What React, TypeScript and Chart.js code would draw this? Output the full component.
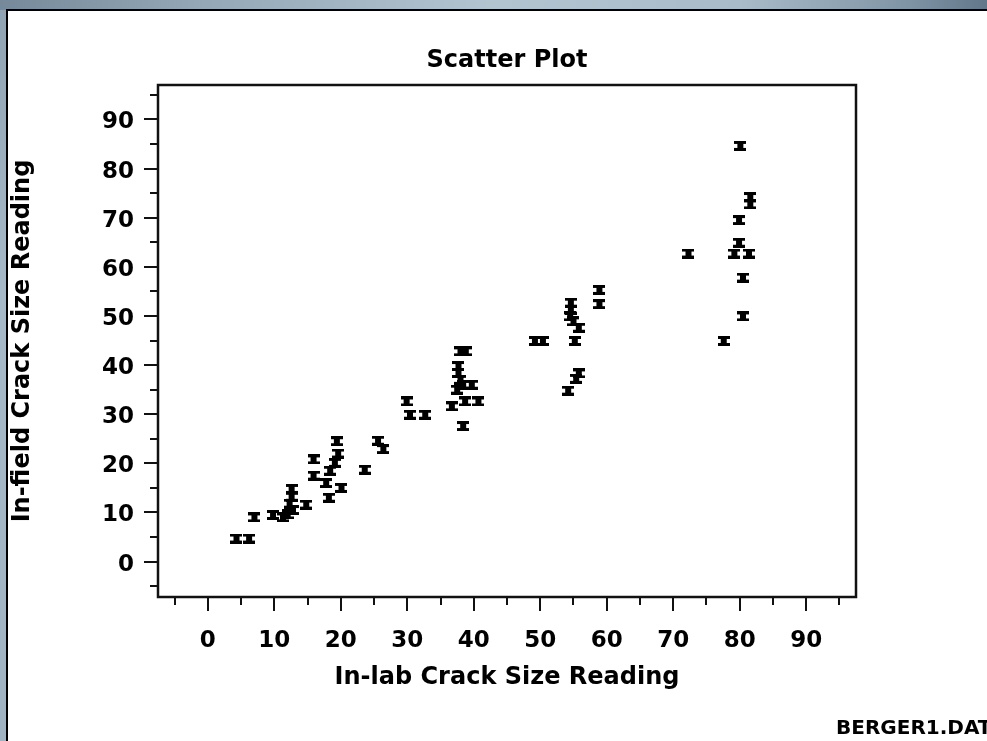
import React, { useEffect, useRef } from 'react';
import { Chart, registerables } from 'chart.js';

Chart.register(...registerables);

// In-lab (x) and in-field (y) crack size readings
const inLab = [4.3, 6.2, 7.0, 9.8, 11.3, 12.0, 12.8, 12.3, 12.6, 12.6, 14.8, 15.9, 15.9, 17.8, 18.2, 18.4, 19.1, 19.6, 19.4, 20.1, 23.6, 25.6, 26.4, 29.9, 30.4, 32.7, 36.7, 38.0, 38.8, 37.7, 37.7, 38.0, 38.4, 37.5, 39.7, 38.7, 40.7, 38.4, 49.2, 50.4, 55.2, 54.6, 54.6, 54.5, 55.0, 55.8, 55.8, 55.4, 54.2, 58.9, 58.9, 72.3, 77.6, 80.1, 81.6, 81.6, 79.9, 79.9, 79.2, 81.4, 80.5, 80.5];
const inField = [4.7, 4.7, 9.0, 9.5, 9.0, 9.6, 10.5, 11.8, 13.2, 14.8, 11.6, 20.8, 17.5, 16.0, 13.0, 18.5, 20.1, 22.0, 24.5, 15.0, 18.7, 24.6, 22.9, 32.6, 29.9, 29.9, 31.6, 42.8, 42.8, 39.8, 38.4, 37.0, 36.0, 35.0, 36.0, 32.6, 32.6, 27.6, 44.9, 44.9, 44.9, 52.7, 51.3, 49.9, 48.9, 47.6, 38.3, 37.2, 34.8, 55.3, 52.4, 62.7, 44.9, 84.6, 74.2, 72.7, 69.5, 64.9, 62.7, 62.7, 57.8, 49.9];

const tickValues = [-5, 0, 5, 10, 15, 20, 25, 30, 35, 40, 45, 50, 55, 60, 65, 70, 75, 80, 85, 90, 95];
const labeledTicks = [0, 10, 20, 30, 40, 50, 60, 70, 80, 90];

const chartTitle = 'Scatter Plot';
const xTitle = 'In-lab Crack Size Reading';
const yTitle = 'In-field Crack Size Reading';
const footnote = 'BERGER1.DAT';

const FONT = '"DejaVu Sans", Verdana, sans-serif';
const INK = '#111';

function makeMarker(): HTMLCanvasElement {
  const c = document.createElement('canvas');
  c.width = 12;
  c.height = 10;
  const g = c.getContext('2d')!;
  g.fillStyle = '#000';
  g.fillRect(0, 0, 12, 3);
  g.fillRect(3, 2, 6, 6);
  g.fillRect(0, 7, 12, 3);
  return c;
}

const isMajor = (v: number) => labeledTicks.includes(v);

const framePlugin = {
  id: 'frameAndMinorTicks',
  afterDraw(chart: any) {
    const { ctx, chartArea: a } = chart;
    const xs = chart.scales.x;
    const ys = chart.scales.y;
    ctx.save();
    ctx.strokeStyle = INK;
    ctx.lineWidth = 2.5;
    ctx.strokeRect(a.left, a.top, a.right - a.left, a.bottom - a.top);
    ctx.lineWidth = 2;
    ctx.beginPath();
    tickValues.forEach((v) => {
      if (isMajor(v)) return;
      const px = Math.round(xs.getPixelForValue(v));
      ctx.moveTo(px, a.bottom);
      ctx.lineTo(px, a.bottom + 8);
      const py = Math.round(ys.getPixelForValue(v));
      ctx.moveTo(a.left, py);
      ctx.lineTo(a.left - 8, py);
    });
    ctx.stroke();
    ctx.restore();
  },
};

export default function App() {
  const ref = useRef<HTMLCanvasElement | null>(null);

  useEffect(() => {
    if (!ref.current) return;
    const marker = makeMarker();
    const points = inLab.map((x, i) => ({ x, y: inField[i] }));
    const tickFont = { family: FONT, size: 23, weight: 'bold' as const };
    const titleFont = { family: FONT, size: 24, weight: 'bold' as const };
    const chart = new Chart(ref.current, {
      type: 'scatter',
      data: {
        datasets: [
          {
            data: points,
            pointStyle: marker,
            pointRadius: 6,
            backgroundColor: '#000',
            borderColor: '#000',
          },
        ],
      },
      plugins: [framePlugin],
      options: {
        responsive: false,
        animation: false,
        events: [],
        layout: { padding: { left: 0, right: 131, top: 0, bottom: 45 } },
        plugins: {
          legend: { display: false },
          tooltip: { enabled: false },
          title: {
            display: true,
            fullSize: false,
            text: chartTitle,
            color: '#000',
            font: titleFont,
            padding: { top: 46, bottom: 10.2 },
          },
        },
        scales: {
          x: {
            type: 'linear',
            min: -7.5,
            max: 97.5,
            afterFit: (s: any) => {
              s.height = 99;
            },
            afterBuildTicks: (s: any) => {
              s.ticks = tickValues.map((v) => ({ value: v }));
            },
            border: { display: false },
            grid: {
              drawOnChartArea: false,
              drawTicks: true,
              tickLength: 14,
              lineWidth: 2,
              tickColor: (ctx: any) => (ctx.tick && isMajor(ctx.tick.value) ? INK : 'rgba(0,0,0,0)'),
            },
            ticks: {
              autoSkip: false,
              maxRotation: 0,
              minRotation: 0,
              padding: 16,
              color: '#000',
              font: tickFont,
              callback: (v: any) => (isMajor(Number(v)) ? String(v) : ''),
            },
            title: {
              display: true,
              text: xTitle,
              color: '#000',
              font: titleFont,
              padding: { top: 4, bottom: 4 },
            },
          },
          y: {
            type: 'linear',
            min: -7.2,
            max: 97,
            afterFit: (s: any) => {
              s.width = 158;
            },
            afterBuildTicks: (s: any) => {
              s.ticks = tickValues.map((v) => ({ value: v }));
            },
            border: { display: false },
            grid: {
              drawOnChartArea: false,
              drawTicks: true,
              tickLength: 14,
              lineWidth: 2,
              tickColor: (ctx: any) => (ctx.tick && isMajor(ctx.tick.value) ? INK : 'rgba(0,0,0,0)'),
            },
            ticks: {
              autoSkip: false,
              padding: 10,
              labelOffset: 3,
              color: '#000',
              font: tickFont,
              callback: (v: any) => (isMajor(Number(v)) ? String(v) : ''),
            },
            title: {
              display: true,
              text: yTitle,
              color: '#000',
              font: titleFont,
              padding: { top: 8, bottom: 4 },
            },
          },
        },
      },
    });
    return () => chart.destroy();
  }, []);

  return (
    <div
      style={{
        position: 'fixed',
        left: 0,
        top: 0,
        width: 987,
        height: 741,
        overflow: 'hidden',
        background: 'linear-gradient(180deg, #8fa3b2 0%, #a6b9c8 40%, #9fb3c2 100%)',
      }}
    >
      <div
        style={{
          position: 'absolute',
          left: 0,
          top: 0,
          width: 987,
          height: 10,
          background:
            'linear-gradient(90deg, #75899a 0%, #93a7b6 20%, #b3c4d1 50%, #a9bbc9 75%, #7f94a5 92%, #62788a 100%)',
        }}
      />
      <div
        style={{
          position: 'absolute',
          left: 6,
          top: 9,
          width: 1000,
          height: 760,
          borderLeft: '2px solid #000',
          borderTop: '2px solid #000',
          background: '#fff',
        }}
      />
      <canvas
        ref={ref}
        width={987}
        height={741}
        style={{ position: 'absolute', left: 0, top: 0, width: 987, height: 741 }}
      />
      <div
        style={{
          position: 'absolute',
          left: 836,
          top: 715,
          whiteSpace: 'nowrap',
          fontFamily: FONT,
          fontWeight: 'bold',
          fontSize: 20,
          lineHeight: '24px',
          color: '#000',
        }}
      >
        {footnote}
      </div>
    </div>
  );
}
